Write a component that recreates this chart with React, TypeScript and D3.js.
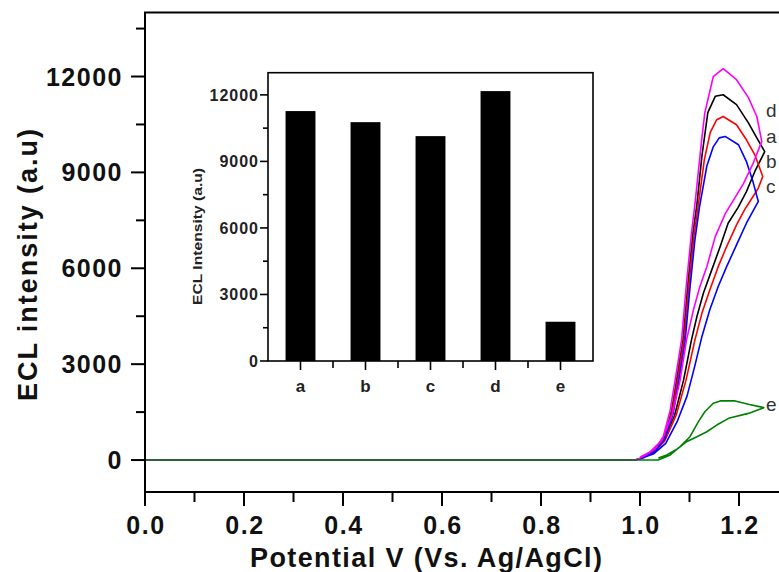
import * as d3 from "d3";
import React from "react";

// main plot: potential (V) vs ECL intensity, cyclic scans
const potentialTicks = [0, 0.2, 0.4, 0.6, 0.8, 1.0, 1.2];
const potentialMinor = [0.1, 0.3, 0.5, 0.7, 0.9, 1.1, 1.3];
const intensityTicks = [0, 3000, 6000, 9000, 12000];
const intensityMinor = [1500, 4500, 7500, 10500, 13500];

const curveA = [
  [0, 0], [0.99, 0], [1.0, 50], [1.01, 130], [1.03, 320], [1.05, 720], [1.064, 1550], [1.074, 2500],
  [1.087, 3760], [1.097, 5540], [1.107, 7100], [1.115, 8000], [1.125, 9500], [1.137, 10870],
  [1.152, 11380], [1.168, 11430], [1.195, 11120], [1.219, 10550], [1.236, 10080], [1.252, 9650],
  [1.232, 9030], [1.215, 8400], [1.198, 7900], [1.178, 7410], [1.162, 6680], [1.145, 5950],
  [1.128, 5220], [1.115, 4490], [1.104, 3760], [1.088, 2500], [1.07, 1400], [1.048, 600],
  [1.025, 220], [1.0, 60],
];
const curveB = [
  [0, 0], [0.99, 0], [1.0, 40], [1.01, 110], [1.03, 300], [1.05, 700], [1.065, 1500], [1.076, 2500],
  [1.089, 3760], [1.099, 5500], [1.109, 7000], [1.117, 7900], [1.13, 9400], [1.142, 10250],
  [1.155, 10650], [1.168, 10750], [1.195, 10490], [1.215, 10020], [1.232, 9550], [1.248, 8870],
  [1.239, 8510], [1.222, 8090], [1.212, 7850], [1.195, 7360], [1.175, 6680], [1.158, 6050],
  [1.141, 5320], [1.125, 4590], [1.111, 3760], [1.093, 2500], [1.073, 1400], [1.05, 600],
  [1.027, 220], [1.0, 50],
];
const curveC = [
  [0, 0], [0.99, 0], [1.0, 30], [1.01, 90], [1.03, 270], [1.05, 650], [1.067, 1450], [1.078, 2450],
  [1.091, 3700], [1.101, 5400], [1.111, 6900], [1.12, 7900], [1.135, 9200], [1.148, 9800],
  [1.16, 10080], [1.172, 10125], [1.199, 9865], [1.215, 9340], [1.228, 8720], [1.239, 8090],
  [1.215, 7410], [1.195, 6730], [1.175, 6050], [1.158, 5430], [1.141, 4700], [1.125, 3860],
  [1.11, 2900], [1.095, 2000], [1.075, 1200], [1.052, 520], [1.028, 200], [1.0, 40],
];
const curveD = [
  [0, 0], [0.99, 0], [1.0, 60], [1.01, 150], [1.03, 350], [1.047, 730], [1.061, 1560], [1.071, 2500],
  [1.084, 3760], [1.094, 5540], [1.104, 7100], [1.111, 8000], [1.125, 10080], [1.131, 10870],
  [1.141, 11530], [1.148, 12000], [1.168, 12250], [1.195, 11900], [1.219, 11340], [1.236, 10750],
  [1.246, 9970], [1.229, 9300], [1.209, 8650], [1.172, 7700], [1.152, 6990],
  [1.135, 6050], [1.121, 5430], [1.108, 4700], [1.094, 3760], [1.081, 2500], [1.065, 1410],
  [1.044, 620], [1.02, 250], [1.0, 90],
];
const curveE = [
  [0, 0], [1.037, 0], [1.061, 160], [1.081, 420], [1.101, 730], [1.118, 1200], [1.131, 1510],
  [1.148, 1775], [1.162, 1850], [1.192, 1850], [1.219, 1745], [1.25, 1640],
  [1.219, 1460], [1.179, 1305], [1.155, 1095], [1.135, 885], [1.115, 730], [1.094, 575],
  [1.077, 365], [1.054, 160], [1.037, 60],
];

const seriesNames = ["a", "b", "c", "d", "e"];
const seriesData = [curveA, curveB, curveC, curveD, curveE];
const seriesColors = ["#000000", "#ff0000", "#0000ff", "#ff00ff", "#008000"];
// where each letter sits, in data units
const labelPoints = [[1.2545, 10140], [1.2545, 9355], [1.2545, 8570], [1.2545, 10950], [1.2545, 1750]];

// inset bar chart
const insetCategories = ["a", "b", "c", "d", "e"];
const insetValues = [11270, 10770, 10140, 12170, 1770];
const insetTicks = [0, 3000, 6000, 9000, 12000];
const insetMinor = [1500, 4500, 7500, 10500];

const FONT = "'Liberation Sans', Arial, sans-serif";

export default function App() {
  const x = d3.scaleLinear().domain([0, 1.3]).range([145, 788.5]);
  const y = d3.scaleLinear().domain([-1000, 14000]).range([492, 12.6]);

  const line = d3.line<number[]>()
    .x((d) => x(d[0]))
    .y((d) => y(d[1]));

  const ix = d3.scaleBand<string>()
    .domain(insetCategories)
    .range([268, 593])
    .paddingInner(0.54)
    .paddingOuter(0.27);
  const iy = d3.scaleLinear().domain([0, 13000]).range([361, 72.7]);
  const step = ix.step();

  const drawOrder = [0, 1, 2, 3, 4];

  return (
    <svg width={779} height={572} style={{ position: "absolute", left: 0, top: 0, background: "#fff" }}>
      {/* curves */}
      {drawOrder.map((i) => (
        <path
          key={seriesNames[i]}
          d={line(seriesData[i]) || ""}
          fill="none"
          stroke={seriesColors[i]}
          strokeWidth={1.6}
          strokeLinejoin="round"
        />
      ))}
      {labelPoints.map((p, i) => (
        <text
          key={"lbl" + i}
          x={x(p[0])}
          y={y(p[1])}
          dy="0.35em"
          fontFamily={FONT}
          fontSize={19}
          fill="#333"
        >
          {seriesNames[i]}
        </text>
      ))}

      {/* frame */}
      <g stroke="#000" strokeWidth={2} fill="none">
        <line x1={145} x2={145} y1={y(14000)} y2={y(-1000) + 1} />
        <line x1={144} x2={779} y1={y(-1000)} y2={y(-1000)} />
        <line x1={144} x2={779} y1={y(14000)} y2={y(14000)} />
      </g>
      {/* y ticks */}
      <g stroke="#000" strokeWidth={2}>
        {intensityTicks.map((t) => (
          <line key={"yt" + t} x1={131} x2={145} y1={y(t)} y2={y(t)} />
        ))}
        {intensityMinor.map((t) => (
          <line key={"ym" + t} x1={136} x2={145} y1={y(t)} y2={y(t)} />
        ))}
        {potentialTicks.map((t) => (
          <line key={"xt" + t} x1={x(t)} x2={x(t)} y1={y(-1000)} y2={y(-1000) + 14} />
        ))}
        {potentialMinor.map((t) => (
          <line key={"xm" + t} x1={x(t)} x2={x(t)} y1={y(-1000)} y2={y(-1000) + 10} />
        ))}
      </g>
      {intensityTicks.map((t) => (
        <text
          key={"ytl" + t}
          x={123}
          y={y(t)}
          dy="0.36em"
          textAnchor="end"
          fontFamily={FONT}
          fontWeight="bold"
          fontSize={25}
          letterSpacing={1.5}
          fill="#111"
        >
          {t}
        </text>
      ))}
      {potentialTicks.map((t) => (
        <text
          key={"xtl" + t}
          x={x(t) + 1}
          y={534}
          textAnchor="middle"
          fontFamily={FONT}
          fontWeight="bold"
          fontSize={25}
          letterSpacing={1.5}
          fill="#111"
        >
          {t.toFixed(1)}
        </text>
      ))}
      <text
        x={250}
        y={567}
        fontFamily={FONT}
        fontWeight="bold"
        fontSize={27}
        textLength={352}
        lengthAdjust="spacing"
        fill="#111"
      >
        Potential V (Vs. Ag/AgCl)
      </text>
      <text
        transform="translate(37,401) rotate(-90)"
        fontFamily={FONT}
        fontWeight="bold"
        fontSize={27}
        textLength={272}
        lengthAdjust="spacing"
        fill="#111"
      >
        ECL intensity (a.u)
      </text>

      {/* inset */}
      <rect x={268} y={72.7} width={325} height={288.3} fill="none" stroke="#000" strokeWidth={1.6} />
      {insetCategories.map((c, i) => (
        <rect
          key={"bar" + c}
          x={ix(c)}
          y={iy(insetValues[i])}
          width={ix.bandwidth()}
          height={iy(0) - iy(insetValues[i])}
          fill="#000"
        />
      ))}
      <g stroke="#000" strokeWidth={1.6}>
        {insetTicks.map((t) => (
          <line key={"iyt" + t} x1={260} x2={268} y1={iy(t)} y2={iy(t)} />
        ))}
        {insetMinor.map((t) => (
          <line key={"iym" + t} x1={263} x2={268} y1={iy(t)} y2={iy(t)} />
        ))}
        {insetCategories.map((c) => (
          <line
            key={"ixt" + c}
            x1={(ix(c) || 0) + ix.bandwidth() / 2}
            x2={(ix(c) || 0) + ix.bandwidth() / 2}
            y1={361}
            y2={370}
          />
        ))}
        {insetCategories.slice(0, 4).map((c) => (
          <line
            key={"ixm" + c}
            x1={(ix(c) || 0) + ix.bandwidth() / 2 + step / 2}
            x2={(ix(c) || 0) + ix.bandwidth() / 2 + step / 2}
            y1={361}
            y2={368}
          />
        ))}
      </g>
      {insetTicks.map((t) => (
        <text
          key={"iytl" + t}
          x={259}
          y={iy(t)}
          dy="0.36em"
          textAnchor="end"
          fontFamily={FONT}
          fontWeight="bold"
          fontSize={16}
          letterSpacing={1}
          fill="#222"
        >
          {t}
        </text>
      ))}
      {insetCategories.map((c) => (
        <text
          key={"ixtl" + c}
          x={(ix(c) || 0) + ix.bandwidth() / 2}
          y={392}
          textAnchor="middle"
          fontFamily={FONT}
          fontWeight="bold"
          fontSize={17}
          fill="#222"
        >
          {c}
        </text>
      ))}
      <text
        transform="translate(202,305) rotate(-90)"
        fontFamily={FONT}
        fontWeight="bold"
        fontSize={13}
        textLength={137}
        lengthAdjust="spacingAndGlyphs"
        fill="#222"
      >
        ECL Intensity (a.u)
      </text>
    </svg>
  );
}
